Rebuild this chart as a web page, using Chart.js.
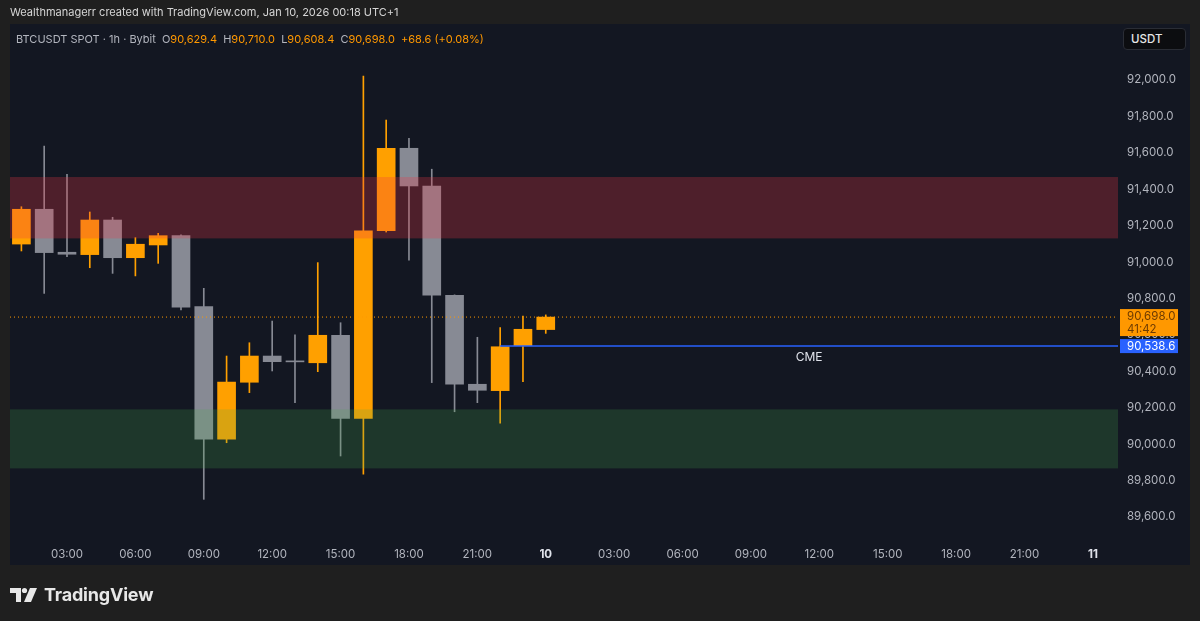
<!DOCTYPE html>
<html>
<head>
<meta charset="utf-8">
<script src="https://cdn.jsdelivr.net/npm/chart.js@4"></script>
<style>
  html,body{margin:0;padding:0;background:#1f1f1f;width:1200px;height:621px;overflow:hidden;}
  #wrap{position:relative;width:1200px;height:621px;}
  canvas{position:absolute;left:0;top:0;}
  .ov{position:absolute;z-index:2;white-space:nowrap;font-family:Inter,"Noto Sans",sans-serif;}
  #credit{left:10px;top:5px;font-size:11px;color:#d6d6d6;}
  #legend{left:16px;top:32px;font-size:11px;color:#b2b5be;}
  #legend .v{color:#ff9800;}
  #legend .g{margin-left:3px;}
  #usdt{left:1123px;top:28px;width:61px;height:20px;background:#0c0d10;border:1px solid #2a2d35;border-radius:4px;color:#e6e6e6;font-size:11.5px;font-weight:500;line-height:20px;text-indent:7px;}
  #logo{left:10px;top:584px;display:flex;align-items:center;}
  #logo span{font-family:Inter,"Noto Sans",sans-serif;font-weight:700;font-size:18px;color:#e8e8e8;margin-left:6px;letter-spacing:-0.2px;}
</style>
</head>
<body>
<div id="wrap">
  <canvas id="c" width="1200" height="621"></canvas>
  <div class="ov" id="credit">Wealthmanagerr created with TradingView.com, Jan 10, 2026 00:18 UTC+1</div>
  <div class="ov" id="legend">BTCUSDT SPOT · 1h · Bybit <span class="g">O</span><span class="v">90,629.4</span> <span class="g">H</span><span class="v">90,710.0</span> <span class="g">L</span><span class="v">90,608.4</span> <span class="g">C</span><span class="v">90,698.0</span> <span class="v" style="margin-left:3px">+68.6 (+0.08%)</span></div>
  <div class="ov" id="usdt">USDT</div>
  <div class="ov" id="logo">
    <svg width="28" height="16" viewBox="0 0 28 16">
      <path d="M0 1 H11 V15 H6 V6 H0 Z" fill="#e8e8e8"/>
      <circle cx="14.5" cy="3.5" r="2.6" fill="#e8e8e8"/>
      <path d="M20 1 H27 L21 15 H14 Z" fill="#e8e8e8"/>
    </svg>
    <span>TradingView</span>
  </div>
</div>
<script>
// ---- data (hour index: 0 = Jan 9 00:00) ----
const hours  = [1,2,3,4,5,6,7,8,9,10,11,12,13,14,15,16,17,18,19,20,21,22,23,24];
const opens  = [91099,91290,91054,91041,91231,91024,91094,91145,90755,90028,90340,90484,90457,90447,90598,90142,91172,91625,91418,90818,90329,90294,90541,90629.4];
const highs  = [91304,91637,91482,91275,91246,91134,91158,91150,90856,90484,90557,90676,90600,90997,90667,92022,91780,91680,91510,90820,90587,90640,90704,90710.0];
const lows   = [91061,90828,91030,90969,90938,90924,90993,90737,89697,90008,90283,90402,90228,90398,89935,89835,91165,91011,90338,90178,90228,90115,90343,90608.4];
const closes = [91290,91052,91043,91231,91024,91098,91145,90753,90028,90341,90484,90453,90452,90598,90142,91172,91625,91418,90818,90329,90296,90535,90631,90698.0];

const priceTicks = [89600,89800,90000,90200,90400,90600,90800,91000,91200,91400,91600,91800,92000];
const timeTicks  = [3,6,9,12,15,18,21,24,27,30,33,36,39,42,45,48];
const timeLabels = ['03:00','06:00','09:00','12:00','15:00','18:00','21:00','10','03:00','06:00','09:00','12:00','15:00','18:00','21:00','11'];

const resistanceZone = [91130, 91467];
const supportZone    = [89867, 90191];
const lastPrice = 90698.0;
const countdown = '41:42';
const cmeLevel = 90538.6;
const cmeStartHour = 22;
const cmeText = 'CME';

const xRange = [0.5, 49.1];
const yRange = [89473.7, 92307.5];

const UP = '#ffa000', DOWN = '#878a94';
const isUp = i => closes[i] >= opens[i];

const fmt = v => v.toLocaleString('en-US',{minimumFractionDigits:1,maximumFractionDigits:1});
const AXIS_FONT = '11.5px Inter, "Noto Sans", sans-serif';

const bgPlugin = {
  id:'bg',
  beforeDraw(chart){
    const c = chart.ctx;
    c.save();
    c.fillStyle = '#1f1f1f';
    c.fillRect(0,0,chart.width,chart.height);
    c.fillStyle = '#131722';
    c.fillRect(10,24,1180,541);
    c.restore();
  }
};

const zonePlugin = {
  id:'zones',
  afterDatasetsDraw(chart){
    const {ctx, chartArea:a, scales:{y}} = chart;
    ctx.save();
    ctx.beginPath(); ctx.rect(a.left,a.top,a.right-a.left,a.bottom-a.top); ctx.clip();
    const draw = (z,col)=>{
      const t = y.getPixelForValue(z[1]), b = y.getPixelForValue(z[0]);
      ctx.fillStyle = col; ctx.fillRect(a.left,t,a.right-a.left,b-t);
    };
    draw(resistanceZone,'rgba(242,54,69,0.27)');
    draw(supportZone,'rgba(76,175,80,0.21)');
    ctx.restore();
  }
};

const labelPlugin = {
  id:'labels',
  afterDraw(chart){
    const {ctx, chartArea:a, scales:{x,y}} = chart;
    ctx.save();
    // CME text
    const xs = x.getPixelForValue(cmeStartHour), xe = a.right;
    const yc = y.getPixelForValue(cmeLevel);
    ctx.font = '12px Inter, "Noto Sans", sans-serif';
    ctx.fillStyle = '#e0e3eb';
    ctx.textAlign = 'center'; ctx.textBaseline = 'middle';
    ctx.fillText(cmeText,(xs+xe)/2,yc+11);
    // last price box
    ctx.font = AXIS_FONT;
    const yl = y.getPixelForValue(lastPrice);
    ctx.fillStyle = '#ff9800';
    ctx.fillRect(a.right+2, yl-8, 58, 27);
    ctx.fillStyle = '#6e3b00';
    ctx.textAlign = 'left';
    ctx.fillText(fmt(lastPrice), a.right+9, yl-1);
    ctx.fillText(countdown, a.right+9, yl+12);
    // CME price box
    ctx.fillStyle = '#2962ff';
    ctx.fillRect(a.right+2, yc-7, 58, 14);
    ctx.fillStyle = '#ffffff';
    ctx.fillText(fmt(cmeLevel), a.right+9, yc);
    ctx.restore();
  }
};

new Chart(document.getElementById('c'), {
  type:'bar',
  data:{
    datasets:[
      {
        label:'wicks',
        data: hours.map((h,i)=>({x:h, y:[lows[i], highs[i]]})),
        backgroundColor: hours.map((h,i)=>isUp(i)?UP:DOWN),
        barThickness:1,
        grouped:false,
        order:3
      },
      {
        label:'bodies',
        data: hours.map((h,i)=>({x:h, y:[opens[i], closes[i]]})),
        backgroundColor: hours.map((h,i)=>isUp(i)?UP:DOWN),
        barThickness:18,
        minBarLength:1,
        grouped:false,
        order:2
      },
      {
        type:'line',
        label:'last',
        data:[{x:xRange[0],y:lastPrice},{x:xRange[1],y:lastPrice}],
        borderColor:'#ff9800',
        borderWidth:1,
        borderDash:[1,3],
        pointRadius:0,
        order:1
      },
      {
        type:'line',
        label:'cme',
        data:[{x:cmeStartHour,y:cmeLevel},{x:xRange[1],y:cmeLevel}],
        borderColor:'#2962ff',
        borderWidth:1.5,
        pointRadius:0,
        order:1
      }
    ]
  },
  options:{
    responsive:false,
    devicePixelRatio:1,
    animation:false,
    layout:{padding:{left:10,right:10,top:24,bottom:56}},
    plugins:{legend:{display:false},tooltip:{enabled:false}},
    scales:{
      x:{
        type:'linear', min:xRange[0], max:xRange[1], offset:false,
        grid:{display:false, drawTicks:false}, border:{display:false},
        afterBuildTicks(s){ s.ticks = timeTicks.map(v=>({value:v})); },
        afterFit(s){ s.height = 25; },
        ticks:{
          padding:8, maxRotation:0, autoSkip:false,
          callback:(v)=>timeLabels[timeTicks.indexOf(v)],
          color:(c)=> (c.tick && c.tick.value%24===0) ? '#e0e3eb' : '#b2b5be',
          font:(c)=>({family:'Inter, "Noto Sans", sans-serif', size:11.5, weight:(c.tick && c.tick.value%24===0)?'bold':'normal'})
        }
      },
      y:{
        type:'linear', position:'right', min:yRange[0], max:yRange[1],
        grid:{display:false, drawTicks:false}, border:{display:false},
        afterBuildTicks(s){ s.ticks = priceTicks.map(v=>({value:v})); },
        afterFit(s){ s.width = 72; },
        ticks:{
          padding:9, autoSkip:false,
          callback:(v)=>fmt(v),
          color:'#b2b5be',
          font:{family:'Inter, "Noto Sans", sans-serif', size:11.5}
        }
      }
    }
  },
  plugins:[bgPlugin, zonePlugin, labelPlugin]
});
</script>
</body>
</html>
